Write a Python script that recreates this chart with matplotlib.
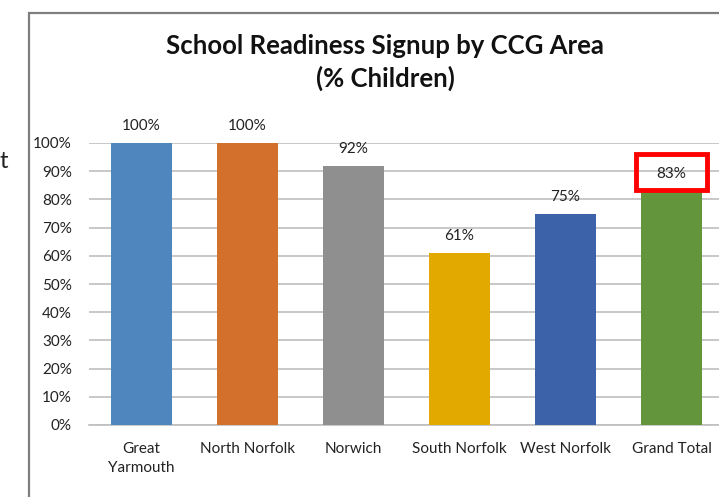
import matplotlib
matplotlib.use("Agg")
import matplotlib.pyplot as plt
from matplotlib.patches import Rectangle
from matplotlib.ticker import PercentFormatter

categories = ["Great\nYarmouth", "North Norfolk", "Norwich", "South Norfolk", "West Norfolk", "Grand Total"]
values = [100, 100, 92, 61, 75, 83]
colors = ["#4F86BD", "#D2702C", "#8F8F8F", "#E2A900", "#3C62AA", "#63963C"]
yticks = list(range(0, 101, 10))

plt.rcParams['font.family'] = ['Lato', 'DejaVu Sans']

W, H = 719, 497
fig = plt.figure(figsize=(W / 100, H / 100), dpi=100)

# chart frame (cropped at right/bottom)
fig.patches.append(Rectangle((29 / W, -0.1), 1.2, 1 - 13 / H + 0.1, transform=fig.transFigure,
                             fill=False, edgecolor="#7F7F7F", linewidth=1.6))
fig.text(0 / W, 1 - 161 / H, "t", fontsize=17, va="center", ha="left", color="#222222")

x0, x1 = 88.5, 724.5
y0, y1 = 425, 143
ax = fig.add_axes([x0 / W, 1 - y0 / H, (x1 - x0) / W, (y0 - y1) / H])
xs = list(range(len(categories)))
bars = ax.bar(xs, values, width=0.575, color=colors, zorder=3)
ax.set_xlim(-0.5, len(categories) - 0.5)
ax.set_ylim(0, 100)
ax.set_yticks(yticks)
ax.yaxis.set_major_formatter(PercentFormatter(decimals=0))
ax.set_xticks(xs)
ax.set_xticklabels(categories, fontsize=11, color="#222222", linespacing=1.5)
ax.tick_params(axis="y", labelsize=11, labelcolor="#222222", length=0, pad=12)
ax.tick_params(axis="x", length=0, pad=12)
ax.grid(axis="y", color="#BFBFBF", linewidth=1.2, zorder=0)
for s in ["top", "right", "left"]:
    ax.spines[s].set_visible(False)
ax.spines["bottom"].set_color("#BFBFBF")
ax.spines["bottom"].set_linewidth(1.2)

for xi, v in zip(xs, values):
    ax.annotate(f"{v}%", (xi, v), xytext=(0, 7), textcoords="offset points",
                ha="center", va="bottom", fontsize=11, color="#222222")

# red highlight box around Grand Total label
i = len(values) - 1
ax.add_patch(Rectangle((i - 0.335, values[i] + 0.3), 0.67, 12.9, fill=False,
                       edgecolor="#FF0000", linewidth=3.5, zorder=5, clip_on=False))

fig.text(385 / W, 1 - 46 / H, "School Readiness Signup by CCG Area", fontsize=18.5,
         fontweight="bold", ha="center", va="center", color="#111111")
fig.text(385 / W, 1 - 78 / H, "(% Children)", fontsize=18.5,
         fontweight="bold", ha="center", va="center", color="#111111")

fig.savefig("out.png", dpi=100)
